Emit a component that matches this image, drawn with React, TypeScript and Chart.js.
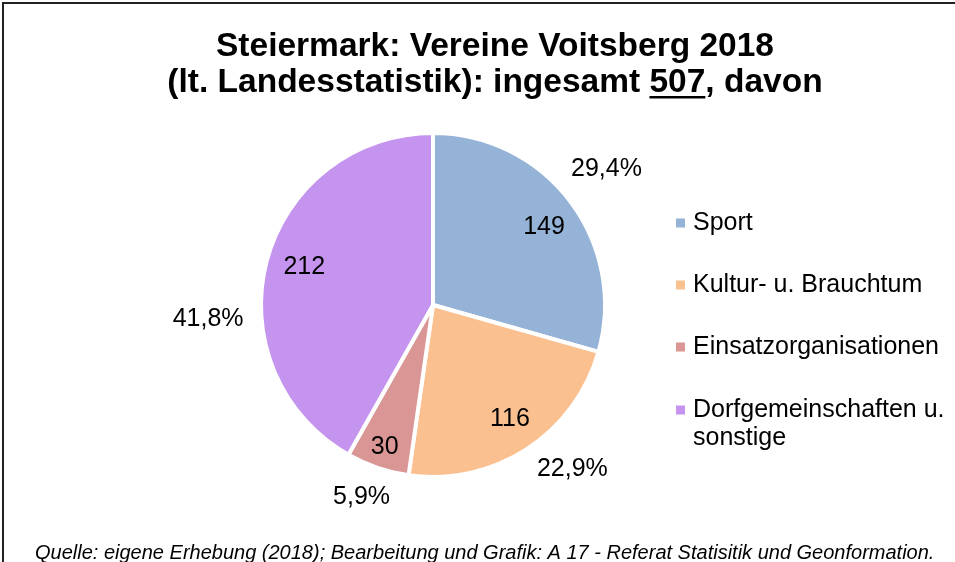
import React, { useEffect, useRef } from "react";
import { Chart, registerables } from "chart.js";

Chart.register(...registerables);

const categories = ["Sport", "Kultur- u. Brauchtum", "Einsatzorganisationen", "Dorfgemeinschaften u. sonstige"];
const legendLines = [["Sport"], ["Kultur- u. Brauchtum"], ["Einsatzorganisationen"], ["Dorfgemeinschaften u.", "sonstige"]];
const values = [149, 116, 30, 212];
const colors = ["#95B3D7", "#FAC090", "#D99694", "#C494EF"];
const titleLine1 = "Steiermark: Vereine Voitsberg 2018";
const titleLine2Pre = "(lt. Landesstatistik): ingesamt ";
const titleTotal = "507";
const titleLine2Post = ", davon";
const footerText = "Quelle: eigene Erhebung (2018); Bearbeitung und Grafik: A 17 - Referat Statisitik und Geonformation.";

// label placement (angle shift in degrees, radius factor)
const innerShift = [1.9, -1, 0, 1.7];
const innerFactor = [0.79, 0.8, 0.87, 0.78];
const outerShift = [-0.9, -7.4, 1.6, -18.2];
const outerFactor = [1.28, 1.25, 1.19, 1.31];

const FONT = "'Liberation Sans', Arial, sans-serif";

const decorPlugin = {
  id: "decor",
  afterDraw(chart: any) {
    const ctx = chart.ctx as CanvasRenderingContext2D;
    const W = chart.width;
    const H = chart.height;
    ctx.save();
    // frame
    ctx.strokeStyle = "#222";
    ctx.lineWidth = 2;
    ctx.beginPath();
    ctx.moveTo(3, H);
    ctx.lineTo(3, 3);
    ctx.lineTo(W, 3);
    ctx.stroke();

    // title
    ctx.fillStyle = "#000";
    ctx.font = `bold 33.5px ${FONT}`;
    ctx.textBaseline = "middle";
    ctx.textAlign = "center";
    const tcx = 495;
    ctx.fillText(titleLine1, tcx, 47);
    const full = titleLine2Pre + titleTotal + titleLine2Post;
    const fw = ctx.measureText(full).width;
    ctx.textAlign = "left";
    const x0 = tcx - fw / 2;
    ctx.fillText(full, x0, 83);
    const preW = ctx.measureText(titleLine2Pre).width;
    const totW = ctx.measureText(titleTotal).width;
    ctx.fillRect(x0 + preW, 83 + 13, totW, 2.5);

    // data labels
    const meta = chart.getDatasetMeta(0);
    const total = values.reduce((a, b) => a + b, 0);
    ctx.font = `25px ${FONT}`;
    ctx.textAlign = "center";
    meta.data.forEach((arc: any, i: number) => {
      const { x, y, startAngle, endAngle, outerRadius } = arc.getProps(["x", "y", "startAngle", "endAngle", "outerRadius"], true);
      const mid = (startAngle + endAngle) / 2;
      const a1 = mid + (innerShift[i] * Math.PI) / 180;
      const r1 = outerRadius * innerFactor[i];
      ctx.fillText(String(values[i]), x + Math.cos(a1) * r1, y + Math.sin(a1) * r1);
      const a2 = mid + (outerShift[i] * Math.PI) / 180;
      const r2 = outerRadius * outerFactor[i];
      const pct = ((values[i] / total) * 100).toFixed(1).replace(".", ",") + "%";
      ctx.fillText(pct, x + Math.cos(a2) * r2, y + Math.sin(a2) * r2);
    });

    // legend
    const legendY = [223, 285, 347, 410];
    ctx.textAlign = "left";
    legendLines.forEach((lines, i) => {
      ctx.fillStyle = colors[i];
      ctx.fillRect(676, legendY[i] - 4.5, 9, 9);
      ctx.fillStyle = "#000";
      lines.forEach((ln, j) => {
        ctx.fillText(ln, 693, legendY[i] + j * 28);
      });
    });

    // footer
    ctx.font = `italic 20px ${FONT}`;
    ctx.fillText(footerText, 35, 553);
    ctx.restore();
  },
};

export default function App() {
  const ref = useRef<HTMLCanvasElement | null>(null);
  useEffect(() => {
    document.body.style.margin = "0";
    const chart = new Chart(ref.current as HTMLCanvasElement, {
      type: "pie",
      data: {
        labels: categories,
        datasets: [
          {
            data: values,
            backgroundColor: colors,
            borderColor: "#ffffff",
            borderWidth: 4,
          },
        ],
      },
      options: {
        animation: false,
        responsive: false,
        layout: { padding: { left: 259, right: 348, top: 131, bottom: 83 } },
        plugins: {
          legend: { display: false },
          title: { display: false },
          tooltip: { enabled: false },
        },
      },
      plugins: [decorPlugin],
    });
    return () => chart.destroy();
  }, []);
  return (
    <div style={{ position: "absolute", left: 0, top: 0, width: 955, height: 562, background: "#fff" }}>
      <canvas ref={ref} width={955} height={562} style={{ width: 955, height: 562, display: "block" }} />
    </div>
  );
}
